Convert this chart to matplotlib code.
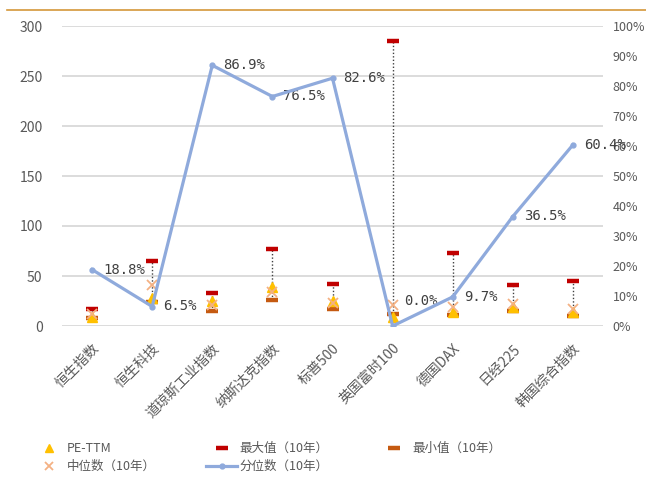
import numpy as np
import matplotlib.pyplot as plt
from matplotlib.lines import Line2D
from matplotlib.ticker import FuncFormatter

plt.rcParams['font.family'] = ['Noto Sans CJK SC', 'DejaVu Sans']

# --- data ---
indices = ['恒生指数', '恒生科技', '道琼斯工业指数', '纳斯达克指数', '标普500',
           '英国富时100', '德国DAX', '日经225', '韩国综合指数']
pe_ttm = [9.3, 28, 25, 39, 25, 9, 14, 19, 14.5]
pe_max = [17, 65, 33.5, 77, 42.5, 285, 73, 41, 45]
pe_min = [7.7, 24.5, 15, 26, 16.7, 12, 11.5, 15.3, 10.3]
pe_median = [12.5, 41, 21, 34, 23, 21, 19, 22.5, 17]
pct_rank = [0.188, 0.065, 0.869, 0.765, 0.826, 0.000, 0.097, 0.365, 0.604]

# label tweaks (points), only the 0.0% one was nudged up in the original
label_dy = [0, 0, 0, 0, 0, 18, 0, 0, 0]

c_pe = '#FFC000'
c_max = '#C00000'
c_min = '#C55A11'
c_med = '#F4B183'
c_pct = '#8FAADC'
c_txt = '#595959'

W, H = 646, 478
fig = plt.figure(figsize=(W / 100, H / 100), dpi=100)
ax = fig.add_axes([62 / W, 1 - 326 / H, (603 - 62) / W, 300 / H])
ax2 = ax.twinx()

x = np.arange(len(indices))

# max-min dotted range
ax.vlines(x, pe_min, pe_max, colors='#404040', linestyles=(0, (1, 1.5)), lw=1, zorder=2)
ax.plot(x, pe_min, ls='none', marker='_', ms=8, mew=3.2, color=c_min, zorder=3)
ax.plot(x, pe_max, ls='none', marker='_', ms=8, mew=3.2, color=c_max, zorder=3)
ax.plot(x, pe_ttm, ls='none', marker='^', ms=7, color=c_pe, zorder=4)
ax.plot(x, pe_median, ls='none', marker='x', ms=7, mew=1.3, color=c_med, zorder=5)

ax.set_xlim(-0.5, len(indices) - 0.5)
ax.set_ylim(0, 300)
ax.set_yticks(np.arange(0, 301, 50))
ax.grid(axis='y', color='#D9D9D9', lw=1.3)
ax.set_axisbelow(True)
ax.set_xticks(x)
ax.set_xticklabels(indices, rotation=45, ha='right', va='top', rotation_mode='anchor',
                   fontsize=10, color=c_txt)
ax.tick_params(axis='x', length=0, pad=11)
ax.tick_params(axis='y', length=0, pad=14, labelsize=10, labelcolor=c_txt)
for s in ax.spines.values():
    s.set_visible(False)

# percentile line on the right axis
ax2.plot(x, pct_rank, color=c_pct, lw=2.3, marker='o', ms=3.5, zorder=6)
for xi, v, dy in zip(x, pct_rank, label_dy):
    ax2.annotate(f'{v * 100:.1f}%', (xi, v), xytext=(8, dy), textcoords='offset points',
                 ha='left', va='center', fontsize=10, color='#404040',
                 family=['DejaVu Sans Mono'])
ax2.set_ylim(0, 1)
ax2.set_yticks(np.arange(0, 1.01, 0.1))
ax2.yaxis.set_major_formatter(FuncFormatter(lambda v, _: f'{v * 100:.0f}%'))
ax2.tick_params(axis='y', length=0, pad=7, labelsize=9, labelcolor=c_txt)
for s in ax2.spines.values():
    s.set_visible(False)

# orange rule at the top
fig.add_artist(Line2D([7 / W, 1], [1 - 10 / H, 1 - 10 / H], color='#D4973A', lw=1.2))

# legend
handles = [
    Line2D([], [], ls='none', marker='^', ms=6, color=c_pe),
    Line2D([], [], ls='none', marker='x', ms=6, mew=1.3, color=c_med),
    Line2D([], [], ls='none', marker='_', ms=8, mew=3.2, color=c_max),
    Line2D([], [], color=c_pct, lw=2.3, marker='o', ms=3.5),
    Line2D([], [], ls='none', marker='_', ms=8, mew=3.2, color=c_min),
]
labels = ['PE-TTM', '中位数（10年）', '最大值（10年）', '分位数（10年）', '最小值（10年）']
fig.legend(handles, labels, ncol=3, loc='upper left', bbox_to_anchor=(27 / W, 1 - 436 / H),
           frameon=False, fontsize=9, handlelength=2.5, handletextpad=0.2,
           columnspacing=4.0, labelspacing=0.4, borderpad=0, labelcolor=c_txt)

fig.savefig('out.png', dpi=100)
